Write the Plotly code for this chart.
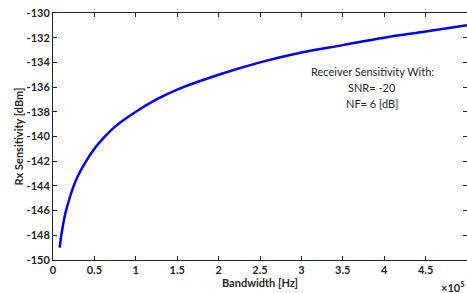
import plotly.graph_objects as go

# Bandwidth in units of 1e5 Hz, sensitivity in dBm
bandwidth_e5 = [0.08, 0.09, 0.10, 0.12, 0.15, 0.20, 0.25, 0.30, 0.40, 0.50, 0.60, 0.75,
                1.00, 1.25, 1.50, 2.00, 2.50, 3.00, 3.50, 4.00, 4.50, 5.00]
sensitivity = [-149.0, -148.5, -148.0, -147.2, -146.2, -145.0, -144.0, -143.2, -142.0, -141.0,
               -140.2, -139.2, -138.0, -137.0, -136.2, -135.0, -134.0, -133.2, -132.6, -132.0,
               -131.5, -131.0]

x_tickvals = [0, 0.5, 1, 1.5, 2, 2.5, 3, 3.5, 4, 4.5, 5]
x_ticktext = ["0", "0.5", "1", "1.5", "2", "2.5", "3", "3.5", "4", "4.5", "5"]
y_tickvals = [-150, -148, -146, -144, -142, -140, -138, -136, -134, -132, -130]
y_ticktext = ["-150", "-148", "-146", "-144", "-142", "-140", "-138", "-136", "-134", "-132", "-130"]

note_lines = ["Receiver Sensitivity With:", "SNR= -20", "NF= 6 [dB]"]

bandwidth_hz = [b * 1e5 for b in bandwidth_e5]

W, H = 467, 293
ML, MR, MT, MB = 53, 0, 13, 33

fig = go.Figure()
fig.add_trace(go.Scatter(x=bandwidth_hz, y=sensitivity, mode="lines",
                         line=dict(color="#0000ff", width=2.5, shape="spline"),
                         showlegend=False, hoverinfo="skip"))

font_family = "Lato, Open Sans, sans-serif"
txt_color = "#262626"
bold_font = dict(family=font_family, size=11, color=txt_color, weight="bold")

fig.update_layout(
    width=W, height=H,
    margin=dict(l=ML, r=MR, t=MT, b=MB, autoexpand=False),
    paper_bgcolor="white", plot_bgcolor="white",
    xaxis=dict(range=[0, 5e5], tickvals=[v * 1e5 for v in x_tickvals], ticktext=x_ticktext,
               ticks="inside", ticklen=4, tickcolor=txt_color, showgrid=False,
               showline=True, linecolor=txt_color, linewidth=1, mirror="ticks",
               zeroline=False, tickfont=bold_font, automargin=False,
               title=dict(text="Bandwidth [Hz]", font=bold_font, standoff=0)),
    yaxis=dict(range=[-150, -130], tickvals=y_tickvals, ticktext=y_ticktext,
               ticks="inside", ticklen=4, tickcolor=txt_color, showgrid=False,
               showline=True, linecolor=txt_color, linewidth=1, mirror="ticks",
               zeroline=False, tickfont=bold_font, automargin=False,
               title=dict(text="Rx Sensitivity [dBm]", font=bold_font, standoff=0)),
)

plot_w = W - ML - MR
plot_h = H - MT - MB
line_y_px = [71, 87.5, 103]
for txt, ypx in zip(note_lines, line_y_px):
    fig.add_annotation(x=(372 - ML) / plot_w, y=1 - (ypx - MT) / plot_h, xref="paper", yref="paper",
                       showarrow=False, text=txt, xanchor="center", yanchor="middle",
                       font=dict(family=font_family, size=11, color=txt_color))
fig.add_annotation(x=1.0, y=0, xref="paper", yref="paper", showarrow=False,
                   text="×10<sup>5</sup>", xanchor="right", yanchor="top", yshift=-17,
                   font=bold_font)

fig.write_html("out.html", config={"displayModeBar": False})

with open("out.html", "r", encoding="utf-8") as f:
    html = f.read()
html = html.replace("<body>", '<body style="margin:0;padding:0;overflow:hidden">', 1)
with open("out.html", "w", encoding="utf-8") as f:
    f.write(html)
